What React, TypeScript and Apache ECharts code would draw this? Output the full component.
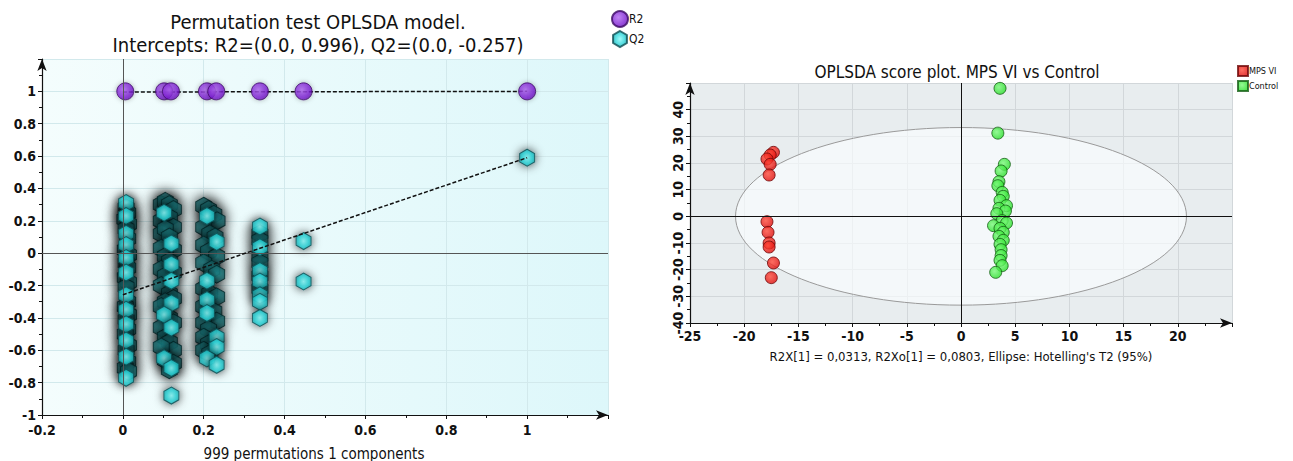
import React, { useEffect, useRef } from 'react';
import * as echarts from 'echarts';

const FONT = '"DejaVu Sans Condensed", "Liberation Sans Narrow", "Noto Sans", sans-serif';

// ---------- Left chart: permutation test ----------
const leftTitle = 'Permutation test OPLSDA model.\nIntercepts: R2=(0.0, 0.996), Q2=(0.0, -0.257)';
const leftXName = '999 permutations 1 components';
const r2Points: [number, number][] = [
  [0.006, 1], [0.102, 1], [0.119, 1], [0.208, 1], [0.231, 1], [0.339, 1], [0.447, 1], [1.0, 1],
];
const r2Line: [number, number][] = [[0, 0.996], [1, 1]];
const q2Line: [number, number][] = [[0, -0.257], [1, 0.59]];
// densely packed permuted Q2 values (mostly hidden under glow)
const q2Dense: [number, number][] = [
  [0.008, 0.28], [0.012, 0.25], [0.005, 0.21], [0.014, 0.18], [0.008, 0.15], [0.012, 0.09], [0.006, 0.02],
  [0.014, -0.01], [0.008, -0.06], [0.012, -0.09], [0.006, -0.15], [0.014, -0.18], [0.008, -0.21], [0.012, -0.3],
  [0.006, -0.33], [0.014, -0.38], [0.008, -0.41], [0.012, -0.47], [0.006, -0.5], [0.014, -0.57], [0.008, -0.6],
  [0.012, -0.67], [0.006, -0.71], [0.014, -0.73],
  [0.095, 0.3], [0.105, 0.32], [0.115, 0.3], [0.125, 0.27], [0.095, 0.2], [0.115, 0.22], [0.125, 0.16],
  [0.095, 0.12], [0.105, 0.15], [0.115, 0.1], [0.125, 0.02], [0.095, 0.03], [0.105, -0.02], [0.115, -0.05],
  [0.095, -0.1], [0.125, -0.12], [0.105, -0.14], [0.095, -0.2], [0.115, -0.25], [0.125, -0.28], [0.105, -0.3],
  [0.095, -0.33], [0.115, -0.4], [0.125, -0.43], [0.095, -0.46], [0.105, -0.52], [0.115, -0.55], [0.125, -0.6],
  [0.095, -0.58], [0.105, -0.66], [0.125, -0.68], [0.115, -0.72],
  [0.2, 0.29], [0.212, 0.27], [0.225, 0.24], [0.233, 0.2], [0.2, 0.16], [0.215, 0.12], [0.228, 0.1],
  [0.2, 0.05], [0.212, 0.01], [0.232, -0.02], [0.2, -0.06], [0.22, -0.1], [0.232, -0.13], [0.2, -0.22],
  [0.215, -0.25], [0.232, -0.27], [0.2, -0.33], [0.225, -0.36], [0.232, -0.42], [0.2, -0.43], [0.212, -0.47],
  [0.2, -0.52], [0.212, -0.56], [0.2, -0.6], [0.215, -0.62],
  [0.339, 0.12], [0.339, 0.08], [0.339, -0.02], [0.339, -0.06], [0.339, -0.14], [0.339, -0.22],
];
// permuted Q2 values with their hexagon clearly visible
const q2Visible: [number, number][] = [
  [0.008, 0.31], [0.008, 0.23], [0.008, 0.12], [0.008, 0.05], [0.008, -0.03], [0.008, -0.12], [0.008, -0.26],
  [0.008, -0.35], [0.008, -0.44], [0.008, -0.54], [0.008, -0.64], [0.008, -0.77],
  [0.102, 0.25], [0.12, 0.06], [0.12, -0.07], [0.12, -0.17], [0.12, -0.31], [0.102, -0.38], [0.12, -0.46],
  [0.102, -0.65], [0.12, -0.71], [0.12, -0.88],
  [0.208, 0.23], [0.232, 0.07], [0.208, -0.17], [0.208, -0.29], [0.208, -0.37], [0.232, -0.52], [0.232, -0.58],
  [0.208, -0.65], [0.232, -0.69],
  [0.339, 0.165], [0.339, 0.037], [0.339, -0.11], [0.339, -0.175], [0.339, -0.26], [0.339, -0.3], [0.339, -0.4],
  [0.447, 0.075], [0.447, -0.175],
  [1.0, 0.59],
];

// ---------- Right chart: OPLS-DA score plot ----------
const rightTitle = 'OPLSDA score plot. MPS VI vs Control';
const rightXName = "R2X[1] = 0,0313, R2Xo[1] = 0,0803, Ellipse: Hotelling's T2 (95%)";
const mpsVI: [number, number][] = [
  [-17.3, 24], [-17.6, 23], [-17.9, 21.5], [-17.6, 19.5], [-17.7, 15.5], [-17.9, -2], [-17.8, -6],
  [-17.7, -10], [-17.7, -11.5], [-17.3, -17.5], [-17.5, -23],
];
const control: [number, number][] = [
  [3.6, 48], [3.4, 31.2], [4.0, 19.5], [3.7, 17], [3.5, 13], [3.4, 11.5], [3.8, 9], [3.9, 7.5], [3.6, 6],
  [4.2, 4], [3.5, 3], [4.1, 2], [3.3, 1], [3.8, -1.6], [4.2, -2.5], [3.0, -3.5], [3.6, -4.5], [3.9, -6],
  [3.5, -7.5], [3.9, -9], [3.6, -10.5], [3.7, -12.5], [3.7, -14.7], [3.6, -16.5], [3.8, -18.5], [3.2, -21],
];
// [centerX, centerY, semi-axis X, semi-axis Y]
const hotellingEllipse: number[][] = [[0, 0, 20.8, 33.3]];

const HEX = 'path://M50,0 L93.3,25 L93.3,75 L50,100 L6.7,75 L6.7,25 Z';

function fmt(v: number) {
  return String(Math.round(v * 1000) / 1000);
}

export default function App() {
  const ref = useRef<HTMLDivElement>(null);
  useEffect(() => {
    if (!ref.current) return;
    const chart = echarts.init(ref.current, undefined, { renderer: 'svg' });
    const axisCommon = (extra: any) => ({
      type: 'value',
      axisLine: {
        show: true, onZero: false, lineStyle: { color: '#111', width: 1.2 },
        symbol: ['none', 'arrow'], symbolSize: [7, 12],
      },
      axisTick: { show: true, length: 4, lineStyle: { color: '#111' } },
      minorTick: { show: true, splitNumber: 2, length: 3, lineStyle: { color: '#111' } },
      ...extra,
    });
    const cyan = new echarts.graphic.RadialGradient(0.5, 0.5, 0.6, [
      { offset: 0, color: '#8af8f8' }, { offset: 0.55, color: '#2ed6da' }, { offset: 1, color: '#149aa0' },
    ]);
    const teal = new echarts.graphic.RadialGradient(0.5, 0.5, 0.6, [
      { offset: 0, color: '#229ea3' }, { offset: 1, color: '#0f4f53' },
    ]);
    const purple = new echarts.graphic.RadialGradient(0.4, 0.4, 0.7, [
      { offset: 0, color: '#b066f0' }, { offset: 0.7, color: '#7a1bd0' }, { offset: 1, color: '#560c98' },
    ]);
    const red = new echarts.graphic.RadialGradient(0.4, 0.4, 0.7, [
      { offset: 0, color: '#ff4a3a' }, { offset: 1, color: '#dc0606' },
    ]);
    const green = new echarts.graphic.RadialGradient(0.4, 0.4, 0.7, [
      { offset: 0, color: '#7cf97c' }, { offset: 1, color: '#1fdc1f' },
    ]);
    const labelStyle = { color: '#111', fontFamily: FONT, fontWeight: 'bold' as const };
    chart.setOption({
      animation: false,
      textStyle: { fontFamily: FONT },
      title: [
        {
          text: leftTitle, left: 313, top: 5, textAlign: 'center',
          textStyle: { fontSize: 20, lineHeight: 23, fontWeight: 'normal', color: '#111', fontFamily: FONT },
        },
        {
          text: leftXName, left: 309, top: 441, textAlign: 'center',
          textStyle: { fontSize: 15, fontWeight: 'normal', color: '#111', fontFamily: FONT },
        },
        {
          text: rightTitle, left: 952, top: 58, textAlign: 'center',
          textStyle: { fontSize: 17, fontWeight: 'normal', color: '#111', fontFamily: FONT },
        },
      ],
      legend: [
        {
          data: ['R2', { name: 'Q2', itemStyle: { color: cyan, borderColor: '#0c4d52' } }],
          left: 606, top: 5, orient: 'vertical', itemWidth: 16, itemHeight: 16, itemGap: 2,
          textStyle: { fontSize: 12, color: '#111', fontFamily: FONT, padding: [0, 0, 0, -4] }, selectedMode: false,
        },
        {
          data: ['MPS VI', 'Control'], left: 1232, top: 60, orient: 'vertical', icon: 'rect',
          itemWidth: 10, itemHeight: 10, itemGap: 3,
          textStyle: { fontSize: 9, color: '#111', fontFamily: FONT, padding: [0, 0, 0, -4] }, selectedMode: false,
        },
      ],
      grid: [
        {
          left: 42, top: 59, width: 566, height: 356, show: true, borderWidth: 0,
          backgroundColor: new echarts.graphic.LinearGradient(0, 0, 1, 0, [
            { offset: 0, color: '#f4fdfd' }, { offset: 1, color: '#ddf7fa' },
          ]),
        },
        { left: 690, top: 83, width: 542, height: 240, show: true, borderWidth: 0, backgroundColor: '#e8edef' },
      ],
      xAxis: [
        axisCommon({
          gridIndex: 0, min: -0.2, max: 1.2, interval: 0.2,
          axisLabel: { showMaxLabel: false, fontSize: 14, margin: 8, formatter: fmt, ...labelStyle },
          splitLine: { show: true, lineStyle: { color: '#d2e9ec' } },
        }),
        axisCommon({
          gridIndex: 1, min: -25, max: 25, interval: 5,
          name: rightXName, nameLocation: 'middle', nameGap: 27,
          nameTextStyle: { fontSize: 13, color: '#111', fontFamily: FONT },
          axisLabel: { showMaxLabel: false, fontSize: 14, margin: 6, ...labelStyle },
          splitLine: { show: true, lineStyle: { color: '#d2d7da' } },
        }),
      ],
      yAxis: [
        axisCommon({
          gridIndex: 0, min: -1, max: 1.2, interval: 0.2,
          axisLabel: { showMaxLabel: false, fontSize: 14, margin: 6, formatter: fmt, ...labelStyle },
          splitLine: { show: true, lineStyle: { color: '#d2e9ec' } },
        }),
        axisCommon({
          gridIndex: 1, min: -40, max: 50, interval: 10,
          axisLabel: { showMaxLabel: false, fontSize: 14, margin: 5, rotate: 90, ...labelStyle },
          splitLine: { show: true, lineStyle: { color: '#d2d7da' } },
        }),
      ],
      series: [
        {
          name: 'R2 fit', type: 'line', xAxisIndex: 0, yAxisIndex: 0, data: r2Line, symbol: 'none', z: 3,
          lineStyle: { color: '#111', width: 1.5, type: [4, 2] }, silent: true,
          markLine: {
            silent: true, symbol: ['none', 'none'], label: { show: false },
            lineStyle: { color: '#555', width: 1, type: 'solid' },
            data: [{ xAxis: 0 }, { yAxis: 0 }],
          },
        },
        {
          name: 'R2', type: 'scatter', xAxisIndex: 0, yAxisIndex: 0, data: r2Points, symbol: 'circle',
          symbolSize: 17, z: 4,
          itemStyle: { color: purple, borderColor: '#3d0a66', borderWidth: 1, shadowBlur: 5, shadowColor: 'rgba(0,0,0,0.35)' },
        },
        {
          name: 'Q2', type: 'scatter', xAxisIndex: 0, yAxisIndex: 0, data: q2Dense,
          symbol: HEX, symbolSize: [16, 18], z: 4,
          itemStyle: { color: teal, borderColor: '#05282a', borderWidth: 1, shadowBlur: 14, shadowColor: '#000' },
        },
        {
          name: 'Q2', type: 'scatter', xAxisIndex: 0, yAxisIndex: 0, data: q2Visible,
          symbol: HEX, symbolSize: [15, 17], z: 4,
          itemStyle: { color: cyan, borderColor: '#0c4d52', borderWidth: 1, shadowBlur: 10, shadowColor: 'rgba(0,0,0,0.9)' },
        },
        {
          name: 'Q2 fit', type: 'line', xAxisIndex: 0, yAxisIndex: 0, data: q2Line, symbol: 'none', z: 5,
          lineStyle: { color: '#111', width: 1.5, type: [4, 2] }, silent: true,
        },
        {
          name: 'ellipse', type: 'custom', xAxisIndex: 1, yAxisIndex: 1, data: hotellingEllipse, z: 1, silent: true,
          renderItem: (_p: any, api: any) => {
            const c = api.coord([api.value(0), api.value(1)]);
            const s = api.size([api.value(2), api.value(3)]);
            return {
              type: 'ellipse',
              shape: { cx: c[0], cy: c[1], rx: s[0], ry: s[1] },
              style: { fill: 'rgba(250,253,255,0.65)', stroke: '#9a9a9a', lineWidth: 1 },
            };
          },
        },
        {
          name: 'MPS VI', type: 'scatter', xAxisIndex: 1, yAxisIndex: 1, data: mpsVI, symbolSize: 12, z: 3,
          itemStyle: { color: red, borderColor: '#6e0808', borderWidth: 1 },
          markLine: {
            silent: true, symbol: ['none', 'none'], label: { show: false },
            lineStyle: { color: '#111', width: 1, type: 'solid' },
            data: [{ xAxis: 0 }, { yAxis: 0 }],
          },
        },
        {
          name: 'Control', type: 'scatter', xAxisIndex: 1, yAxisIndex: 1, data: control, symbolSize: 12, z: 3,
          itemStyle: { color: green, borderColor: '#155e15', borderWidth: 1 },
        },
      ],
    });
    return () => chart.dispose();
  }, []);
  return (
    <div
      ref={ref}
      style={{ position: 'fixed', left: 0, top: 0, width: 1293, height: 461, background: '#fff' }}
    />
  );
}
